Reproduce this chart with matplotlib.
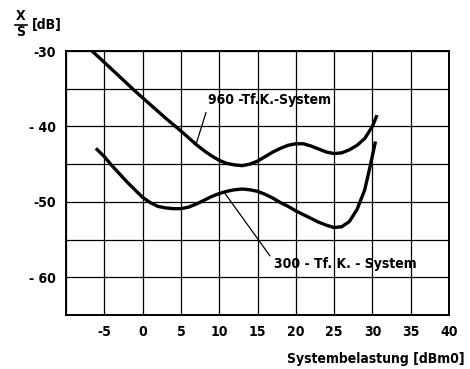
import matplotlib.pyplot as plt
from matplotlib.lines import Line2D

# ---- Daten ----
x_960 = [-6.6, -5, -3, -1, 1, 3, 5, 6, 7, 8, 9, 10, 11, 12, 13, 14, 15, 16, 17, 18,
         19, 20, 21, 22, 23, 24, 25, 26, 27, 28, 29, 30, 30.6]
y_960 = [-30.0, -31.5, -33.4, -35.3, -37.1, -38.9, -40.6, -41.5, -42.4, -43.2, -43.9,
         -44.5, -44.9, -45.1, -45.2, -45.0, -44.6, -44.0, -43.4, -42.9, -42.5, -42.3,
         -42.3, -42.6, -43.0, -43.4, -43.6, -43.5, -43.1, -42.5, -41.6, -40.0, -38.5]

x_300 = [-6.1, -5, -4, -3, -2, -1, 0, 1, 2, 3, 4, 5, 6, 7, 8, 9, 10, 11, 12, 13, 14,
         15, 16, 17, 18, 19, 20, 21, 22, 23, 24, 25, 26, 27, 28, 29, 29.7, 30.4]
y_300 = [-42.9, -44.0, -45.2, -46.3, -47.4, -48.4, -49.4, -50.1, -50.6, -50.8, -50.9,
         -50.9, -50.7, -50.3, -49.8, -49.3, -48.9, -48.6, -48.4, -48.3, -48.4, -48.6,
         -49.0, -49.5, -50.1, -50.6, -51.2, -51.7, -52.2, -52.7, -53.1, -53.4, -53.3,
         -52.6, -51.0, -48.4, -45.3, -42.0]

x_ticks = [-10, -5, 0, 5, 10, 15, 20, 25, 30, 35, 40]
x_labels = ["", "-5", "0", "5", "10", "15", "20", "25", "30", "35", "40"]
y_ticks = [-65, -60, -55, -50, -45, -40, -35, -30]
y_labels = ["", "- 60", "", "-50", "", "- 40", "", "-30"]

label_960 = "960 -Tf.K.-System"
label_300 = "300 - Tf. K. - System"

# schmale fette Schrift wie im Original
plt.rcParams["font.family"] = ["DejaVu Sans"]
plt.rcParams["font.weight"] = "bold"
plt.rcParams["font.stretch"] = "condensed"
fs = 10

fig = plt.figure(figsize=(4.7, 3.69), dpi=100)
ax = fig.add_axes([66 / 470, 54 / 369, 383 / 470, 264 / 369])

ax.plot(x_960, y_960, color="black", lw=2.4, solid_capstyle="butt")
ax.plot(x_300, y_300, color="black", lw=2.4, solid_capstyle="butt")

ax.set_xlim(-10, 40)
ax.set_ylim(-65, -30)
ax.set_xticks(x_ticks)
ax.set_xticklabels(x_labels)
ax.set_yticks(y_ticks)
ax.set_yticklabels(y_labels)
ax.tick_params(axis="x", length=0, labelsize=fs, pad=7)
ax.tick_params(axis="y", length=0, labelsize=fs, pad=7)
ax.grid(True, color="black", lw=0.9)
for s in ax.spines.values():
    s.set_linewidth(1.4)

# ---- Beschriftungen der Kurven ----
ax.annotate(label_960, xy=(6.97, -42.4), xytext=(8.5, -36.5),
            fontsize=fs, ha="left", va="center",
            arrowprops=dict(arrowstyle="-", lw=0.9, color="black",
                            relpos=(0, 0), shrinkA=2, shrinkB=0))
ax.annotate(label_300, xy=(10.7, -48.8), xytext=(17.1, -58.2),
            fontsize=fs, ha="left", va="center",
            arrowprops=dict(arrowstyle="-", lw=0.9, color="black",
                            relpos=(0, 0.7), shrinkA=1, shrinkB=0))

# ---- Achsentitel ----
fig.text(465 / 470, 1 - 359 / 369, "Systembelastung [dBm0]", fontsize=fs,
         ha="right", va="center")
fig.text(21 / 470, 1 - 16.5 / 369, "X", fontsize=fs, ha="center", va="center")
fig.text(21 / 470, 1 - 32.5 / 369, "S", fontsize=fs, ha="center", va="center")
fig.add_artist(Line2D([15 / 470, 27 / 470], [1 - 24.5 / 369, 1 - 24.5 / 369],
                      color="black", lw=1.2))
fig.text(32 / 470, 1 - 25 / 369, "[dB]", fontsize=fs, ha="left", va="center")

fig.savefig("out.png", dpi=100)
